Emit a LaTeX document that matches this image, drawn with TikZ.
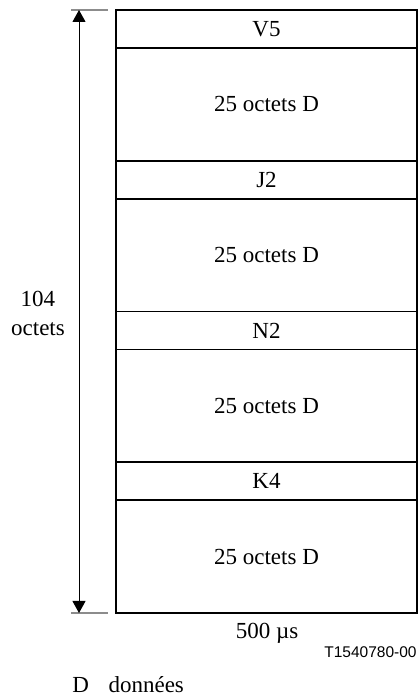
\documentclass[tikz,border=0pt]{standalone}
\usepackage{fontspec}
\setmainfont{Liberation Serif}
\newfontfamily\arialfont{Liberation Sans}
\usetikzlibrary{arrows.meta,positioning}
\definecolor{mygray}{rgb}{0.55,0.55,0.55}
\tikzset{
  hdrrow/.style={minimum width=150.5pt,minimum height=19pt,inner sep=0pt,outer sep=0pt},
  datrow/.style={minimum width=150.5pt,minimum height=56.375pt,inner sep=0pt,outer sep=0pt},
  sizetip/.tip={Triangle[length=6pt,width=6.5pt]}
}

\begin{document}
\begin{tikzpicture}[x=0.5pt,y=0.5pt,font=\fontsize{11.5}{14.5}\selectfont]
  \useasboundingbox (0,0) rectangle (419,695);
  \node[hdrrow,anchor=north west] (v5) at (116,685) {V5};
  \node[datrow,below=0pt of v5] (d1) {25 octets D};
  \node[hdrrow,below=0pt of d1] (j2) {J2};
  \node[datrow,below=0pt of j2] (d2) {25 octets D};
  \node[hdrrow,below=0pt of d2] (n2) {N2};
  \node[datrow,below=0pt of n2] (d3) {25 octets D};
  \node[hdrrow,below=0pt of d3] (k4) {K4};
  \node[datrow,below=0pt of k4] (d4) {25 octets D};
  \foreach \ra in {v5,d1,j2,d2,n2,d3,k4}
    \draw[line width=0.9pt] (\ra.south west) -- (\ra.south east);
  \draw[line width=0.7pt] (v5.north west) rectangle (d4.south east);
  \coordinate (ttop) at (79,685);
  \coordinate (tbot) at (79,82);
  \draw[mygray,line width=0.6pt] (71,685) -- (108,685);
  \draw[mygray,line width=0.6pt] (71,82) -- (108,82);
  \draw[line width=0.5pt,sizetip-sizetip] (ttop) -- (tbot);
    \node[align=center] (lenlbl) at (38,382) {104\\octets};
  \node (durlbl) at (267,62) {500 µs};
  \node[font=\arialfont\fontsize{7.75}{9}\selectfont,anchor=east,inner sep=0pt] (figid) at (417,43) {T1540780-00};
  \node[anchor=base west,inner sep=0pt] (legend) at (72,3) {D\hspace{0.85em}données};
\end{tikzpicture}
\end{document}
